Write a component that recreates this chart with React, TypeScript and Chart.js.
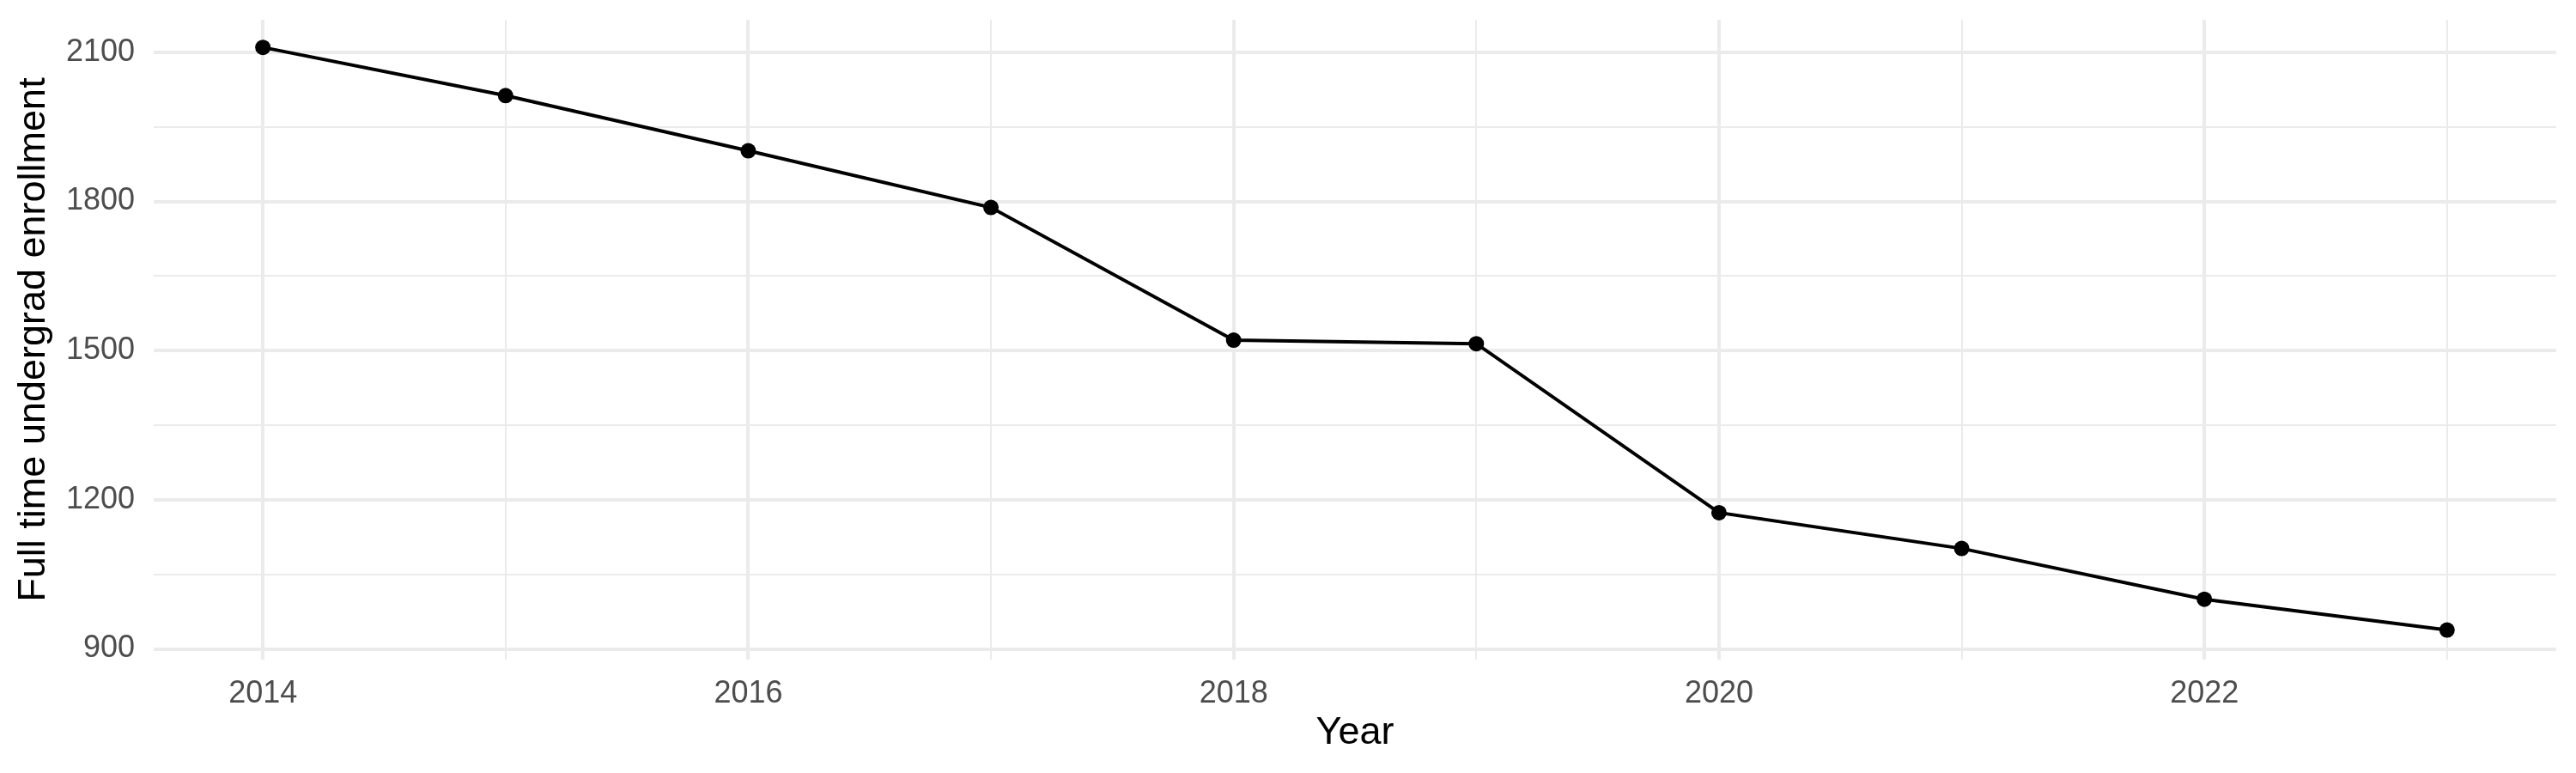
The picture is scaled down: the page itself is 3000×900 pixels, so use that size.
import { useEffect, useRef } from 'react';
import { Chart, registerables } from 'chart.js';

Chart.register(...registerables);

const years = [2014, 2015, 2016, 2017, 2018, 2019, 2020, 2021, 2022, 2023];
const enrollment = [2110, 2013, 1902, 1788, 1521, 1514, 1174, 1102, 1000, 938];

const yTicks = [900, 1050, 1200, 1350, 1500, 1650, 1800, 1950, 2100];
const yLabeled = [900, 1200, 1500, 1800, 2100];
const xTicks = [2014, 2015, 2016, 2017, 2018, 2019, 2020, 2021, 2022, 2023];
const xLabeled = [2014, 2016, 2018, 2020, 2022];

const FONT = "'Liberation Sans', Arial, Helvetica, sans-serif";
const GRID = '#EBEBEB';

const App = () => {
    const chartRef = useRef<HTMLCanvasElement | null>(null);
    const chartInstanceRef = useRef<Chart | null>(null);

    useEffect(() => {
        if (!chartRef.current) return;

        if (chartInstanceRef.current) {
            chartInstanceRef.current.destroy();
        };

        chartInstanceRef.current = new Chart(chartRef.current, {
            type: 'line',
            data: {
                datasets: [{
                    label: 'Full time undergrad enrollment',
                    data: years.map((y, i) => ({ x: y, y: enrollment[i] })),
                    borderColor: '#000000',
                    backgroundColor: '#000000',
                    borderWidth: 4,
                    pointRadius: 9,
                    pointBorderWidth: 0,
                    pointBackgroundColor: '#000000',
                    tension: 0,
                }]
            },
            options: {
                responsive: false,
                animation: false,
                devicePixelRatio: 1,
                layout: { padding: { top: 23, right: 23, bottom: 0, left: 0 } },
                plugins: {
                    legend: { display: false },
                    tooltip: { enabled: false },
                },
                scales: {
                    x: {
                        type: 'linear',
                        min: 2013.55,
                        max: 2023.45,
                        afterBuildTicks: (scale: any) => {
                            scale.ticks = xTicks.map(v => ({ value: v }));
                        },
                        // fixed axis height, and no extra edge padding from the end labels
                        afterFit: (scale: any) => {
                            scale.height = 132;
                            scale.paddingLeft = 0;
                            scale.paddingRight = 0;
                        },
                        border: { display: false },
                        grid: {
                            color: GRID,
                            drawTicks: false,
                            lineWidth: (ctx: any) => xLabeled.includes(ctx.tick?.value) ? 4 : 2,
                        },
                        ticks: {
                            autoSkip: false,
                            maxRotation: 0,
                            padding: 18,
                            color: '#4D4D4D',
                            font: { family: FONT, size: 36 },
                            callback: (v: any) => xLabeled.includes(v) ? String(v) : '',
                        },
                        title: {
                            display: true,
                            text: 'Year',
                            color: '#000000',
                            font: { family: FONT, size: 45 },
                            padding: { top: 0, bottom: 19 },
                        }
                    },
                    y: {
                        type: 'linear',
                        min: 878.5,
                        max: 2165.5,
                        afterBuildTicks: (scale: any) => {
                            scale.ticks = yTicks.map(v => ({ value: v }));
                        },
                        afterFit: (scale: any) => {
                            scale.width = 179;
                            scale.paddingTop = 0;
                            scale.paddingBottom = 0;
                        },
                        border: { display: false },
                        grid: {
                            color: GRID,
                            drawTicks: false,
                            lineWidth: (ctx: any) => yLabeled.includes(ctx.tick?.value) ? 4 : 2,
                        },
                        ticks: {
                            autoSkip: false,
                            padding: 22,
                            color: '#4D4D4D',
                            font: { family: FONT, size: 36 },
                            callback: (v: any) => yLabeled.includes(v) ? String(v) : '',
                        },
                        title: {
                            display: true,
                            text: 'Full time undergrad enrollment',
                            color: '#000000',
                            font: { family: FONT, size: 45 },
                            padding: { top: 13, bottom: 0 },
                        }
                    }
                }
            }
        });

        return () => {
            if (chartInstanceRef.current) {
                chartInstanceRef.current.destroy();
                chartInstanceRef.current = null;
            }
        }
    }, []);

    return <div style={{ position: 'fixed', left: 0, top: 0, width: 3000, height: 900, background: '#ffffff' }}>
        <canvas ref={chartRef} width={3000} height={900} style={{ display: 'block' }}></canvas>
    </div>
};

export default App;
